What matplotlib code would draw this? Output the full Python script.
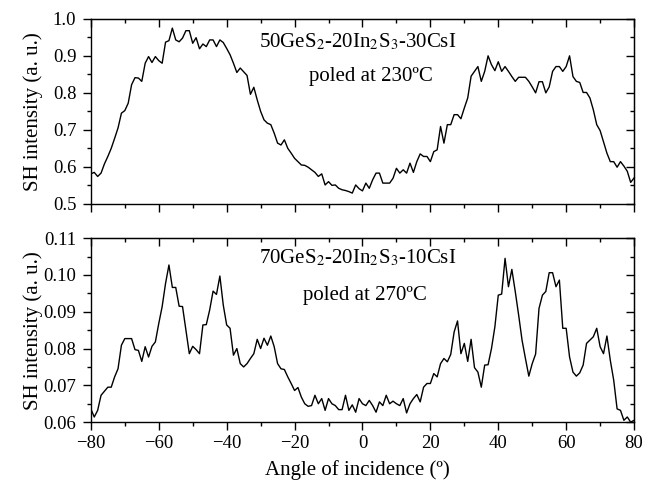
import numpy as np
import matplotlib
matplotlib.use("Agg")
import matplotlib.pyplot as plt
from matplotlib.ticker import MultipleLocator, FormatStrFormatter

plt.rcParams['font.family'] = ['Liberation Serif', 'DejaVu Serif']
plt.rcParams['mathtext.fontset'] = 'stix'

# angle of incidence, 1 degree steps
angle = np.arange(-80, 81)

# 50GeS2-20In2S3-30CsI, poled at 230 C
sh_30csi = [
    0.581, 0.585, 0.574, 0.583, 0.608, 0.628, 0.650, 0.677, 0.705, 0.745,
    0.752, 0.772, 0.822, 0.841, 0.840, 0.831, 0.880, 0.898, 0.882, 0.898,
    0.887, 0.880, 0.937, 0.941, 0.975, 0.943, 0.938, 0.948, 0.968, 0.968,
    0.934, 0.949, 0.919, 0.932, 0.925, 0.943, 0.943, 0.925, 0.943, 0.936,
    0.920, 0.903, 0.880, 0.855, 0.867, 0.857, 0.847, 0.796, 0.815, 0.781,
    0.750, 0.727, 0.718,
    0.714, 0.691, 0.664, 0.659, 0.673, 0.650, 0.637, 0.623, 0.614, 0.605,
    0.604, 0.599, 0.592, 0.585, 0.574, 0.581, 0.551, 0.560, 0.550, 0.551,
    0.542, 0.538, 0.536, 0.533, 0.529, 0.551, 0.541, 0.535, 0.556, 0.542,
    0.565, 0.583, 0.583, 0.556, 0.556, 0.556, 0.569, 0.596, 0.583, 0.592,
    0.583, 0.610, 0.585, 0.614, 0.635, 0.628, 0.628, 0.614, 0.641, 0.646,
    0.709, 0.664,
    0.714, 0.714, 0.741, 0.741, 0.730, 0.759, 0.786, 0.845, 0.858, 0.871,
    0.831, 0.858, 0.900, 0.876, 0.860, 0.884, 0.858, 0.871, 0.858, 0.844,
    0.831, 0.842, 0.842, 0.842, 0.831, 0.816, 0.800, 0.830, 0.830, 0.800,
    0.816, 0.858, 0.871, 0.871, 0.858, 0.871, 0.900, 0.844, 0.831, 0.828,
    0.801, 0.801, 0.786, 0.754, 0.714, 0.698, 0.668, 0.637, 0.614, 0.614,
    0.599, 0.614, 0.602, 0.588, 0.558, 0.570,
]

# 70GeS2-20In2S3-10CsI, poled at 270 C
sh_10csi = [
    0.0636, 0.0614, 0.0632, 0.0673, 0.0684, 0.0695, 0.0695, 0.0723, 0.0745, 0.0809,
    0.0827, 0.0827, 0.0827, 0.0797, 0.0795, 0.0765, 0.0805, 0.0777, 0.0806, 0.0818,
    0.0868, 0.0914, 0.0977, 0.1027, 0.0966, 0.0966, 0.0915, 0.0914, 0.0850, 0.0786,
    0.0806, 0.0797, 0.0786, 0.0864, 0.0865, 0.0905, 0.0956, 0.0947, 0.0997, 0.0918,
    0.0864, 0.0855, 0.0782, 0.0800, 0.0759, 0.0750, 0.0759, 0.0773, 0.0786, 0.0825,
    0.0800, 0.0828,
    0.0809, 0.0834, 0.0805, 0.0759, 0.0745, 0.0743, 0.0723, 0.0705, 0.0686, 0.0694,
    0.0668, 0.0650, 0.0643, 0.0645, 0.0673, 0.0650, 0.0664, 0.0632, 0.0664, 0.0650,
    0.0645, 0.0634, 0.0634, 0.0673, 0.0632, 0.0647, 0.0627, 0.0664, 0.0650, 0.0645,
    0.0659, 0.0645, 0.0627, 0.0655, 0.0645, 0.0673, 0.0650, 0.0657, 0.0650, 0.0645,
    0.0664, 0.0625, 0.0650, 0.0664, 0.0675, 0.0655, 0.0695, 0.0705, 0.0705, 0.0732,
    0.0723, 0.0759, 0.0773,
    0.0764, 0.0784, 0.0845, 0.0875, 0.0786, 0.0814, 0.0765, 0.0825, 0.0748, 0.0736,
    0.0695, 0.0755, 0.0756, 0.0800, 0.0859, 0.0945, 0.0948, 0.1045, 0.0968, 0.1015,
    0.0955, 0.0891, 0.0823, 0.0773, 0.0725, 0.0759, 0.0785, 0.0909, 0.0945, 0.0955,
    0.1006, 0.1006, 0.0968, 0.0986, 0.0855, 0.0855, 0.0777, 0.0736, 0.0725, 0.0734,
    0.0755, 0.0814, 0.0823, 0.0832, 0.0855, 0.0805, 0.0786, 0.0834, 0.0768, 0.0714,
    0.0636, 0.0632, 0.0605, 0.0614, 0.0600, 0.0605,
]

fig = plt.figure(figsize=(6.49, 4.83), dpi=100)
ax1 = fig.add_axes([0.140, 0.578, 0.837, 0.383])
ax2 = fig.add_axes([0.140, 0.126, 0.837, 0.381])


def style(ax, ylim, ymaj, ymin, fmt):
    ax.set_xlim(-80, 80)
    ax.set_ylim(*ylim)
    ax.xaxis.set_major_locator(MultipleLocator(20))
    ax.xaxis.set_minor_locator(MultipleLocator(10))
    ax.yaxis.set_major_locator(MultipleLocator(ymaj))
    ax.yaxis.set_minor_locator(MultipleLocator(ymin))
    ax.yaxis.set_major_formatter(FormatStrFormatter(fmt))
    ax.tick_params(which='major', direction='out', length=5.5, width=1.0, labelsize=13.5)
    ax.tick_params(axis='y', which='major', pad=5)
    ax.tick_params(axis='x', which='major', pad=3.5)
    ax.tick_params(which='minor', direction='out', length=3, width=1.0)
    for s in ax.spines.values():
        s.set_linewidth(1.0)
    # top / right ticks point inward
    top = ax.secondary_xaxis('top')
    top.xaxis.set_major_locator(MultipleLocator(20))
    top.xaxis.set_minor_locator(MultipleLocator(10))
    top.tick_params(which='major', direction='in', length=5.5, width=1.0, labeltop=False)
    top.tick_params(which='minor', direction='in', length=3, width=1.0)
    right = ax.secondary_yaxis('right')
    right.yaxis.set_major_locator(MultipleLocator(ymaj))
    right.yaxis.set_minor_locator(MultipleLocator(ymin))
    right.tick_params(which='major', direction='in', length=5.5, width=1.0, labelright=False)
    right.tick_params(which='minor', direction='in', length=3, width=1.0)
    ax.set_ylabel('SH intensity (a. u.)', fontsize=15, va='center')
    ax.yaxis.set_label_coords(-0.107, 0.5)


ax1.plot(angle, sh_30csi, color='black', lw=1.0)
style(ax1, (0.5, 1.0), 0.1, 0.05, '%.1f')
ax1.tick_params(labelbottom=False)
ax1.text(0.492, 0.876, r'50GeS$_2$-20In$_2$S$_3$-30CsI', transform=ax1.transAxes,
         ha='center', va='center', fontsize=15)
ax1.text(0.516, 0.686, 'poled at 230ºC', transform=ax1.transAxes,
         ha='center', va='center', fontsize=15)

ax2.plot(angle, sh_10csi, color='black', lw=1.0)
style(ax2, (0.06, 0.11), 0.01, 0.005, '%.2f')
ax2.text(0.492, 0.89, r'70GeS$_2$-20In$_2$S$_3$-10CsI', transform=ax2.transAxes,
         ha='center', va='center', fontsize=15)
ax2.text(0.505, 0.69, 'poled at 270ºC', transform=ax2.transAxes,
         ha='center', va='center', fontsize=15)
ax2.set_xlabel('Angle of incidence (º)', fontsize=15, va='center')
ax2.xaxis.set_label_coords(0.49, -0.258)

fig.savefig('out.png', dpi=100)
